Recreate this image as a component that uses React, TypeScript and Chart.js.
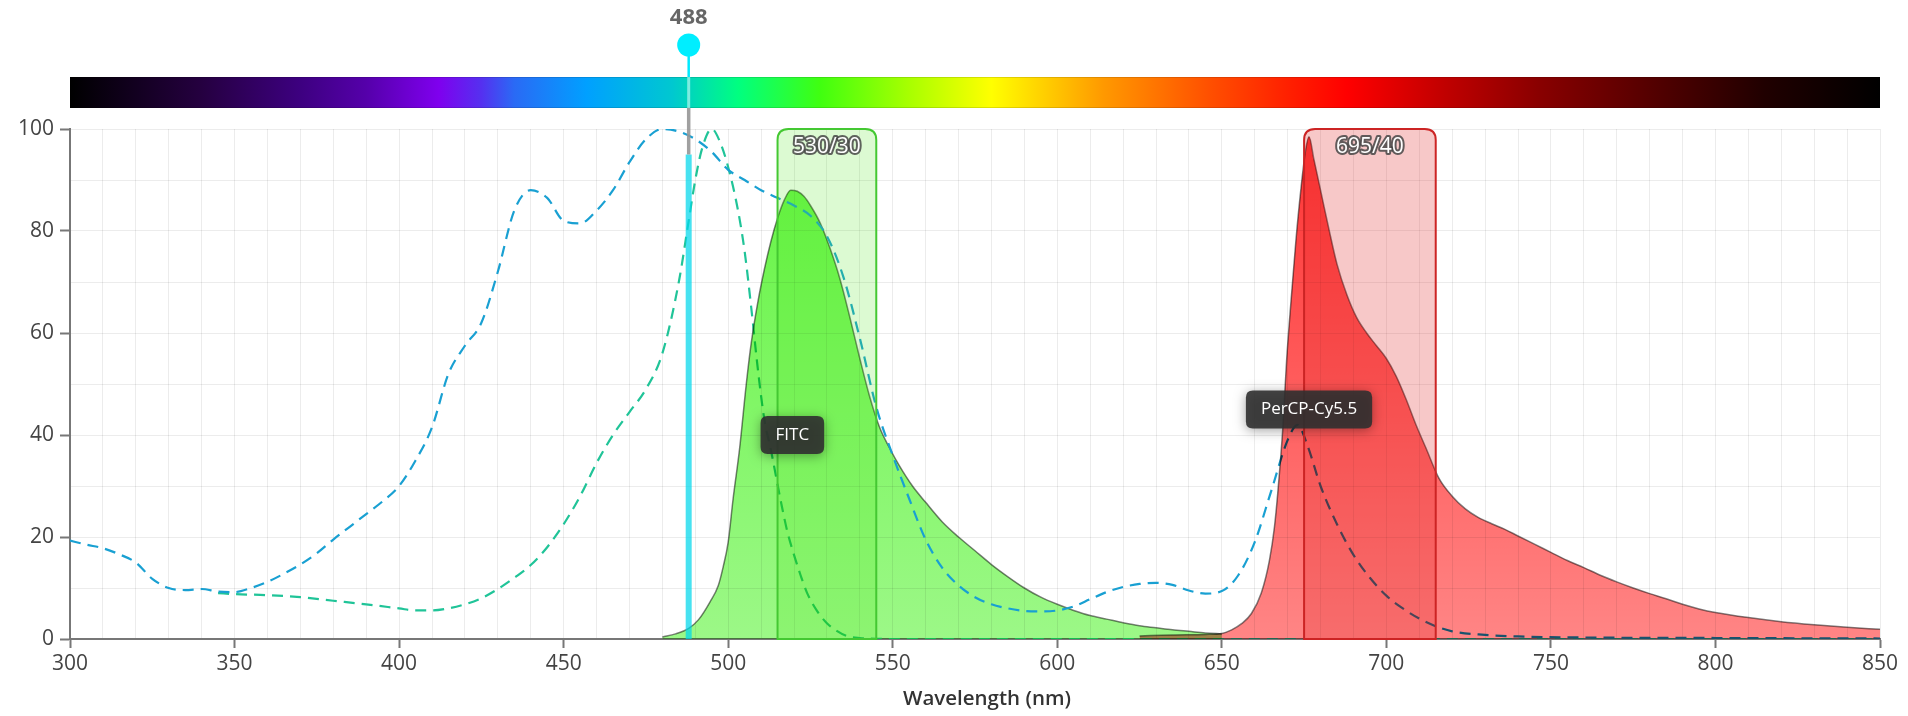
import React, { useEffect, useRef } from "react";
import { Chart, registerables } from "chart.js";

// ---------- DATA ----------
const fitcExWl = [345, 350, 360, 370, 380, 390, 400, 405, 410, 415, 420, 425, 430, 435, 440, 445, 450, 455, 460, 465, 470, 475, 480, 485, 488, 490, 492, 495, 497.5, 500, 503, 505, 507, 509, 511, 513, 516, 518, 520, 522, 524, 527, 530, 533, 536, 540, 550, 600, 700, 850];
const fitcExVal = [9, 8.8, 8.6, 8.2, 7.5, 6.8, 6, 5.6, 5.6, 6, 6.8, 8, 9.8, 12, 14.5, 18, 22.5, 28, 34.5, 40, 44.5, 49, 56, 70, 82, 90, 96, 100, 97.5, 92.5, 84, 76, 65, 53, 43, 37, 27, 21, 16.5, 12.5, 9, 5.5, 3.1, 1.6, 0.6, 0.2, 0, 0, 0, 0];

const fitcEmWl = [480, 484, 488, 491, 494.5, 497, 498.5, 500, 501.5, 503.5, 505.5, 507, 509, 511, 513, 515, 517, 519, 521, 523, 525, 528, 531, 534, 537, 540, 543, 546, 549, 552, 556, 560, 565, 570, 575, 580, 585, 590, 595, 600, 605, 610, 615, 620, 625, 630, 635, 640, 645, 650];
const fitcEmVal = [0.4, 1, 2.1, 3.8, 7.3, 10.5, 14.2, 19, 27.5, 37.5, 50, 58, 66, 72.5, 78, 82.5, 86, 88, 87.8, 86.8, 85, 81.5, 76.5, 70.5, 63, 55, 47.5, 41.5, 37.5, 34, 30, 26.8, 23, 20, 17.3, 14.6, 12.2, 10, 8.2, 6.8, 5.6, 4.6, 3.9, 3.2, 2.6, 2.2, 1.8, 1.5, 1.2, 1.0];

const percpExWl = [300, 305, 310, 315, 320, 325, 330, 335, 340, 345, 350, 355, 360, 365, 370, 375, 380, 385, 390, 395, 400, 405, 410, 415, 420, 425, 430, 435, 440, 445, 450, 455, 460, 465, 470, 475, 480, 485, 490, 495, 500, 505, 510, 515, 520, 525, 530, 535, 540, 545, 550, 555, 560, 565, 570, 575, 580, 585, 590, 595, 600, 605, 610, 615, 620, 625, 630, 635, 640, 645, 650, 655, 660, 665, 670, 673, 676, 680, 685, 690, 695, 700, 705, 710, 715, 720, 730, 740, 760, 800, 850];
const percpExVal = [19.3, 18.5, 17.8, 16.6, 15, 11.8, 10, 9.6, 9.8, 9.3, 9.2, 10, 11.2, 12.8, 14.6, 16.8, 19.5, 22, 24.5, 27, 30, 35, 41.5, 52, 57.5, 62, 72, 84, 88, 86.5, 82, 81.5, 84, 88, 93.5, 98, 100, 99.5, 98, 95.5, 92, 90, 88, 86.5, 85, 83, 79, 71, 59, 45.5, 36, 27.5, 19.5, 14, 10.5, 8.2, 6.8, 6, 5.5, 5.4, 5.6, 6.4, 7.8, 9.2, 10.2, 10.8, 11, 10.6, 9.5, 8.9, 9.4, 12.5, 19, 29, 39, 42, 38, 30, 22.5, 16.5, 12, 8.5, 6, 4, 2.5, 1.5, 0.8, 0.5, 0.3, 0.2, 0.1];

const percpEmWl = [625, 635, 645, 650, 653, 656, 659, 662, 664.5, 666, 667, 668.5, 669.7, 671, 672.5, 674, 675.5, 676.5, 678, 680, 682.5, 685, 688, 691, 694, 697, 700, 703, 706, 709, 712, 716, 720, 724, 728, 732, 736, 740, 745, 750, 755, 760, 765, 770, 775, 780, 785, 790, 795, 800, 810, 820, 830, 840, 850];
const percpEmVal = [0.6, 0.8, 0.9, 1.1, 1.8, 3, 5, 9, 15.5, 22, 28.6, 41, 54.7, 66, 78, 88, 96, 98.5, 94, 88, 80.5, 73.5, 67.5, 63, 60, 57.5, 55, 51.5, 47, 42, 37.5, 31.5, 28, 25.5, 23.8, 22.6, 21.5, 20.2, 18.6, 17, 15.4, 14, 12.5, 11.2, 10, 8.9, 7.9, 6.8, 5.9, 5.2, 4.2, 3.4, 2.8, 2.3, 1.9];

const filterLabels = ["530/30", "695/40"];
const filterCenters = [530, 695];
const filterWidths = [30, 40];

const laserWl = 488;
const laserLabel = "488";

const dyeNames = ["FITC", "PerCP-Cy5.5"];
const dyeLabelWl = [519.5, 676.5];
const dyeLabelVal = [40, 45];

const spectrumWl = [300, 340, 370, 390, 412, 425, 435, 457, 483, 503, 528, 555, 580, 614, 646, 670, 688, 718, 747, 780, 815, 850];
const spectrumColors = ["#000000", "#250040", "#3d0080", "#5500aa", "#7f00ee", "#5530f0", "#2a6af5", "#00a0ff", "#00c8d0", "#00ff80", "#40ff10", "#a8ff00", "#ffff00", "#ff9900", "#ff5000", "#ff2000", "#ff0000", "#c00000", "#880000", "#550000", "#200000", "#000000"];

const xTickStep = 10;
const xLabelStep = 50;
const yTickStep = 10;
const yLabelStep = 20;

const FONT = "'Open Sans', 'Noto Sans', sans-serif";

// ---------- PLUGINS ----------
const multiplyPlugin = {
  id: "multiplyBlend",
  beforeDatasetDraw(chart: any, args: any) {
    const ds = chart.data.datasets[args.index];
    if (ds && ds.multiply) {
      chart.ctx.save();
      chart.ctx.globalCompositeOperation = "multiply";
    }
  },
  afterDatasetDraw(chart: any, args: any) {
    const ds = chart.data.datasets[args.index];
    if (ds && ds.multiply) chart.ctx.restore();
  },
};
Chart.register(multiplyPlugin as any);
Chart.register(...registerables);

function roundTopRect(ctx: CanvasRenderingContext2D, x: number, y: number, w: number, h: number, r: number) {
  ctx.beginPath();
  ctx.moveTo(x, y + h);
  ctx.lineTo(x, y + r);
  ctx.quadraticCurveTo(x, y, x + r, y);
  ctx.lineTo(x + w - r, y);
  ctx.quadraticCurveTo(x + w, y, x + w, y + r);
  ctx.lineTo(x + w, y + h);
  ctx.closePath();
}

function roundRect(ctx: CanvasRenderingContext2D, x: number, y: number, w: number, h: number, r: number) {
  ctx.beginPath();
  ctx.moveTo(x + r, y);
  ctx.lineTo(x + w - r, y);
  ctx.quadraticCurveTo(x + w, y, x + w, y + r);
  ctx.lineTo(x + w, y + h - r);
  ctx.quadraticCurveTo(x + w, y + h, x + w - r, y + h);
  ctx.lineTo(x + r, y + h);
  ctx.quadraticCurveTo(x, y + h, x, y + h - r);
  ctx.lineTo(x, y + r);
  ctx.quadraticCurveTo(x, y, x + r, y);
  ctx.closePath();
}

const bgPlugin = {
  id: "whiteBg",
  beforeDraw(chart: any) {
    const ctx = chart.ctx;
    ctx.save();
    ctx.fillStyle = "#ffffff";
    ctx.fillRect(0, 0, chart.width, chart.height);
    ctx.restore();
  },
};

const boxColors = [
  { fill: "rgba(80,230,30,0.2)", stroke: "#44c832" },
  { fill: "rgba(225,35,35,0.25)", stroke: "#cc2424" },
];

const overlayPlugin = {
  id: "overlay",
  afterDatasetsDraw(chart: any) {
    const ctx = chart.ctx;
    const xs = chart.scales.x;
    const ys = chart.scales.y;
    const area = chart.chartArea;
    ctx.save();
    // filter boxes
    filterCenters.forEach((c, i) => {
      const x0 = xs.getPixelForValue(c - filterWidths[i] / 2);
      const x1 = xs.getPixelForValue(c + filterWidths[i] / 2);
      const y0 = ys.getPixelForValue(0);
      const yt = area.top;
      roundTopRect(ctx, x0, yt, x1 - x0, y0 - yt, 11);
      ctx.fillStyle = boxColors[i].fill;
      ctx.fill();
      ctx.lineWidth = 2;
      ctx.strokeStyle = boxColors[i].stroke;
      ctx.stroke();
    });
    // laser line in plot
    const lx = xs.getPixelForValue(laserWl);
    ctx.strokeStyle = "rgba(0,215,235,0.72)";
    ctx.lineWidth = 6;
    ctx.beginPath();
    ctx.moveTo(lx, ys.getPixelForValue(95));
    ctx.lineTo(lx, ys.getPixelForValue(0));
    ctx.stroke();
    ctx.restore();
  },
  afterDraw(chart: any) {
    const ctx = chart.ctx;
    const xs = chart.scales.x;
    const ys = chart.scales.y;
    const area = chart.chartArea;
    ctx.save();
    // spectrum bar
    const bx0 = xs.getPixelForValue(300);
    const bx1 = xs.getPixelForValue(850);
    const barBottom = area.top - 21;
    const barTop = barBottom - 31;
    const grad = ctx.createLinearGradient(bx0, 0, bx1, 0);
    spectrumWl.forEach((w, i) => grad.addColorStop((w - 300) / 550, spectrumColors[i]));
    ctx.fillStyle = grad;
    ctx.fillRect(bx0, barTop, bx1 - bx0, barBottom - barTop);
    ctx.strokeStyle = "rgba(0,0,0,0.12)";
    ctx.lineWidth = 1;
    ctx.strokeRect(bx0 + 0.5, barTop + 0.5, bx1 - bx0 - 1, barBottom - barTop - 1);

    // laser upper parts
    const lx = xs.getPixelForValue(laserWl);
    const cy = barTop - 32;
    ctx.strokeStyle = "rgba(150,150,150,0.9)";
    ctx.lineWidth = 3.5;
    ctx.beginPath();
    ctx.moveTo(lx, barBottom);
    ctx.lineTo(lx, ys.getPixelForValue(95));
    ctx.stroke();
    ctx.strokeStyle = "rgba(230,255,255,0.55)";
    ctx.lineWidth = 3;
    ctx.beginPath();
    ctx.moveTo(lx, barTop);
    ctx.lineTo(lx, barBottom);
    ctx.stroke();
    ctx.strokeStyle = "#00eaff";
    ctx.lineWidth = 2.5;
    ctx.beginPath();
    ctx.moveTo(lx, cy);
    ctx.lineTo(lx, barTop);
    ctx.stroke();
    ctx.fillStyle = "#00eeff";
    ctx.beginPath();
    ctx.arc(lx, cy, 11.5, 0, Math.PI * 2);
    ctx.fill();
    ctx.fillStyle = "#666666";
    ctx.font = `bold 22px ${FONT}`;
    ctx.textAlign = "center";
    ctx.textBaseline = "middle";
    ctx.fillText(laserLabel, lx, cy - 27);

    // filter labels
    ctx.font = `21px ${FONT}`;
    filterCenters.forEach((c, i) => {
      const x = xs.getPixelForValue(c);
      const y = area.top + 18;
      ctx.lineJoin = "round";
      ctx.lineWidth = 4;
      ctx.strokeStyle = "rgba(70,70,70,0.85)";
      ctx.strokeText(filterLabels[i], x, y);
      ctx.fillStyle = "#ffffff";
      ctx.fillText(filterLabels[i], x, y);
    });

    // dye labels
    ctx.font = `17px ${FONT}`;
    dyeNames.forEach((name, i) => {
      const x = xs.getPixelForValue(dyeLabelWl[i]);
      const y = ys.getPixelForValue(dyeLabelVal[i]);
      const tw = ctx.measureText(name).width;
      const w = tw + 30;
      const h = 38;
      ctx.save();
      ctx.shadowColor = "rgba(0,0,0,0.4)";
      ctx.shadowBlur = 12;
      ctx.shadowOffsetY = 2;
      roundRect(ctx, x - w / 2, y - h / 2, w, h, 7);
      ctx.fillStyle = "rgba(48,48,48,0.9)";
      ctx.fill();
      ctx.restore();
      ctx.fillStyle = "#ffffff";
      ctx.fillText(name, x, y);
    });

    // axis title
    ctx.fillStyle = "#333333";
    ctx.font = `600 20.5px ${FONT}`;
    ctx.fillText("Wavelength (nm)", (area.left + area.right) / 2 + 12, area.bottom + 60);
    ctx.restore();
  },
};

function pts(wl: number[], val: number[]) {
  return wl.map((w, i) => ({ x: w, y: val[i] }));
}

function gradFill(top: string, bottom: string) {
  return (c: any) => {
    const chart = c.chart;
    const area = chart.chartArea;
    if (!area) return bottom;
    const g = chart.ctx.createLinearGradient(0, area.top, 0, area.bottom);
    g.addColorStop(0, top);
    g.addColorStop(1, bottom);
    return g;
  };
}

export default function App() {
  const canvasRef = useRef<HTMLCanvasElement | null>(null);

  useEffect(() => {
    if (!canvasRef.current) return;
    Chart.defaults.font.family = FONT;
    const chart = new Chart(canvasRef.current, {
      type: "line",
      data: {
        datasets: [
          {
            label: "PerCP-Cy5.5 em",
            data: pts(percpEmWl, percpEmVal),
            borderColor: "#808080",
            borderWidth: 1.5,
            backgroundColor: gradFill("rgba(255,0,0,0.8)", "rgba(255,0,0,0.48)"),
            fill: "origin",
            pointRadius: 0,
            cubicInterpolationMode: "monotone",
            order: 1,
            multiply: true,
          } as any,
          {
            label: "PerCP-Cy5.5 ex",
            data: pts(percpExWl, percpExVal),
            borderColor: "#19a0d2",
            borderWidth: 2.2,
            borderDash: [11, 7],
            fill: false,
            pointRadius: 0,
            cubicInterpolationMode: "monotone",
            order: 2,
          },
          {
            label: "FITC em",
            data: pts(fitcEmWl, fitcEmVal),
            borderColor: "#808080",
            borderWidth: 1.5,
            backgroundColor: gradFill("rgba(45,240,0,0.75)", "rgba(45,240,0,0.47)"),
            fill: "origin",
            pointRadius: 0,
            cubicInterpolationMode: "monotone",
            order: 3,
            multiply: true,
          } as any,
          {
            label: "FITC ex",
            data: pts(fitcExWl, fitcExVal),
            borderColor: "#20c498",
            borderWidth: 2.2,
            borderDash: [11, 7],
            fill: false,
            pointRadius: 0,
            cubicInterpolationMode: "monotone",
            order: 4,
          },
        ],
      },
      options: {
        animation: false,
        responsive: false,
        maintainAspectRatio: false,
        events: [],
        layout: { padding: { top: 129, right: 28, left: 0, bottom: 0 } },
        plugins: {
          legend: { display: false },
          tooltip: { enabled: false },
        },
        scales: {
          x: {
            type: "linear",
            min: 300,
            max: 850,
            ticks: {
              stepSize: xTickStep,
              autoSkip: false,
              maxRotation: 0,
              minRotation: 0,
              padding: 3,
              color: "#444",
              font: { size: 21 },
              callback: (v: any) => (Number(v) % xLabelStep === 0 ? String(v) : ""),
            },
            grid: {
              color: "rgba(0,0,0,0.075)",
              lineWidth: 1,
              tickLength: 9,
              tickWidth: 2,
              tickColor: (c: any) => (c.tick && c.tick.value % xLabelStep === 0 ? "#777" : "rgba(0,0,0,0)"),
            },
            border: { color: "#777", width: 2 },
            afterFit: (s: any) => {
              s.height = 77;
            },
          },
          y: {
            min: 0,
            max: 100,
            ticks: {
              stepSize: yTickStep,
              padding: 6,
              color: "#444",
              font: { size: 21 },
              callback: (v: any) => (Number(v) % yLabelStep === 0 ? String(v) : ""),
            },
            grid: {
              color: "rgba(0,0,0,0.075)",
              lineWidth: 1,
              tickLength: 10,
              tickWidth: 2,
              tickColor: (c: any) => (c.tick && c.tick.value % yLabelStep === 0 ? "#777" : "rgba(0,0,0,0)"),
            },
            border: { color: "#777", width: 2 },
            afterFit: (s: any) => {
              s.width = 70;
            },
          },
        },
      } as any,
      plugins: [bgPlugin as any, overlayPlugin as any],
    });
    return () => chart.destroy();
  }, []);

  return (
    <div style={{ position: "absolute", left: 0, top: 0, width: 1908, height: 716 }}>
      <canvas ref={canvasRef} width={1908} height={716} style={{ display: "block", width: 1908, height: 716 }} />
    </div>
  );
}
